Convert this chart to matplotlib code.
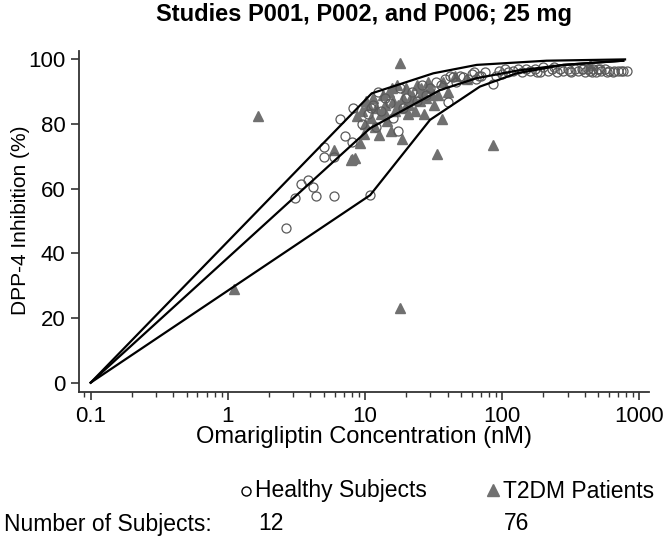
import matplotlib
matplotlib.use("Agg")
import matplotlib.pyplot as plt
from matplotlib.lines import Line2D

plt.rcParams['font.family'] = ['Liberation Sans', 'DejaVu Sans']

# ---- data ----
healthy_conc = [2.66, 3.09, 3.40, 3.86, 4.16, 4.39, 5.05, 5.0, 5.94, 5.94, 6.58, 7.15, 8.0, 8.22, 10.9,
                9.5, 10.5, 11.5, 12, 13, 14, 15.2, 16, 17.5, 18, 19, 20, 22, 24, 26, 28, 30, 33, 36,
                40.5, 44, 46, 49, 52.1, 56, 60, 65, 70, 75, 85.3, 90, 95, 100, 110, 120, 130, 140,
                150, 160, 175, 190, 200, 215, 230, 250, 265, 280, 300, 320, 340, 360, 380, 400, 420,
                440, 460, 480, 500, 530, 560, 600, 640, 700, 760, 820, 12.4, 11, 38, 42, 62, 68,
                105, 180, 240, 310, 390, 450, 520, 580, 650, 730]
healthy_inh = [47.9, 57.2, 61.4, 62.7, 60.5, 57.7, 72.8, 69.7, 69.7, 57.7, 81.6, 76.3, 74.5, 85.1, 58.0,
               80, 83, 86, 79, 84, 88, 86.4, 82, 77.9, 91, 85, 88, 90, 87, 92, 89, 91, 93, 92,
               86.9, 94.6, 93, 95, 94.6, 94, 95.5, 94, 95, 96, 92.4, 95, 96.5, 95.5, 96, 96.5, 97, 96,
               97, 96.5, 97, 96, 97.5, 96.5, 97, 96, 97, 96.5, 97, 96, 97, 96.5, 97, 96, 97,
               96.5, 97, 96, 97, 96.5, 97, 96.5, 96, 96.5, 96.5, 96.5, 90, 85, 94, 95, 96, 95,
               97, 96, 97.5, 96.5, 97, 96, 97, 96, 96.5, 96.5]

t2dm_conc = [1.10, 1.67, 5.94, 7.87, 8.5, 8.7, 8.0, 9.2, 9.5, 10, 10.5, 11, 11.5, 12, 12.7, 13, 13.5,
             14, 14.5, 15, 15.5, 16, 16.5, 17, 18, 18, 18.5, 19, 19.5, 20, 21, 22, 23, 24, 25, 26,
             27, 28, 30, 32, 33.3, 34, 36.2, 37, 40, 45, 55, 86.1, 437, 10.2, 11.8, 13.8, 15.8,
             17.5, 20.5, 22.5, 25.5, 29, 31, 9.8]
t2dm_inh = [28.9, 82.5, 72.0, 68.9, 69.4, 82.5, 69.1, 74.0, 84, 80, 86, 82, 88, 85, 76.6, 83, 89,
            86, 81, 90, 77.9, 87, 84, 92, 98.8, 23.1, 75.3, 88, 85, 91, 86, 89, 84, 92, 87, 90,
            83, 88, 91, 86, 70.6, 89, 81.5, 93, 90, 95, 94, 73.5, 98.3, 87, 79, 84, 91,
            86, 83, 88, 91, 93, 89, 77]

upper_conc = [0.1, 11.2, 31.5, 65.2, 211, 787]
upper_inh = [0, 89.5, 95.7, 98.3, 99.6, 100]
middle_conc = [0.1, 10.9, 35.2, 65.2, 127.6, 279, 764]
middle_inh = [0, 78.7, 90.5, 94.2, 96.5, 98.3, 99.6]
lower_conc = [0.1, 10.9, 29.8, 68.9, 127.6, 279, 764]
lower_inh = [0, 58.0, 81.3, 91.6, 95.7, 98.3, 99.6]

xticks = [0.1, 1, 10, 100, 1000]
xticklabels = ['0.1', '1', '10', '100', '1000']
yticks = [0, 20, 40, 60, 80, 100]

title = 'Studies P001, P002, and P006; 25 mg'
xlabel = 'Omarigliptin Concentration (nM)'
ylabel = 'DPP-4 Inhibition (%)'
legend_labels = ['Healthy Subjects', 'T2DM Patients']
n_label = 'Number of Subjects:'
n_subjects = ['12', '76']

# ---- figure ----
W, H = 666, 537
fig = plt.figure(figsize=(W / 100, H / 100), dpi=100)
ax = fig.add_axes([79.3 / W, 1 - 391.7 / H, (649 - 79.3) / W, (391.7 - 51) / H])

tri_col = '#707070'
circ_col = '#5a5a5a'
ax.plot(t2dm_conc, t2dm_inh, linestyle='none', marker='^', ms=7.5, mfc=tri_col, mec=tri_col, zorder=2)
ax.plot(healthy_conc, healthy_inh, linestyle='none', marker='o', ms=6.5, mfc='none', mec=circ_col,
        mew=0.9, zorder=3)
for xs, ys in [(upper_conc, upper_inh), (middle_conc, middle_inh), (lower_conc, lower_inh)]:
    ax.plot(xs, ys, color='black', lw=1.6, zorder=4)

ax.set_xscale('log')
ax.set_xlim(10 ** -1.083, 10 ** 3.0707)
ax.set_ylim(-2.8, 102.6)
ax.set_xticks(xticks)
ax.set_xticklabels(xticklabels)
ax.set_yticks(yticks)
for s in ['top', 'right']:
    ax.spines[s].set_visible(False)
for s in ['left', 'bottom']:
    ax.spines[s].set_linewidth(1.3)
    ax.spines[s].set_color('#333333')
ax.tick_params(axis='both', which='major', direction='out', length=6, width=1.2, color='#333333',
               labelsize=16, pad=4)
ax.tick_params(axis='x', which='minor', direction='out', length=3.5, width=1.0, color='#333333')
ax.tick_params(axis='y', which='minor', left=False)

fig.text(364.5 / W, 1 - 14 / H, title, ha='center', va='center', fontsize=17, fontweight='bold')
fig.text(364 / W, 1 - 437 / H, xlabel, ha='center', va='center', fontsize=17)
fig.text(21 / W, 1 - 220 / H, ylabel, ha='center', va='center', rotation=90, fontsize=15)

# legend / subject counts
fig.add_artist(Line2D([246 / W], [1 - 491 / H], transform=fig.transFigure, marker='o', ms=6.5,
                      mfc='none', mec='black', mew=1.0, linestyle='none'))
fig.add_artist(Line2D([493 / W], [1 - 490 / H], transform=fig.transFigure, marker='^', ms=8,
                      mfc=tri_col, mec=tri_col, linestyle='none'))
fig.text(255 / W, 1 - 491 / H, legend_labels[0], ha='left', va='center', fontsize=16.5)
fig.text(503 / W, 1 - 491 / H, legend_labels[1], ha='left', va='center', fontsize=16.5)
fig.text(4 / W, 1 - 524 / H, n_label, ha='left', va='center', fontsize=16.5)
fig.text(258 / W, 1 - 524 / H, n_subjects[0], ha='left', va='center', fontsize=16.5)
fig.text(504 / W, 1 - 524 / H, n_subjects[1], ha='left', va='center', fontsize=16.5)

fig.savefig('out.png', dpi=100)
